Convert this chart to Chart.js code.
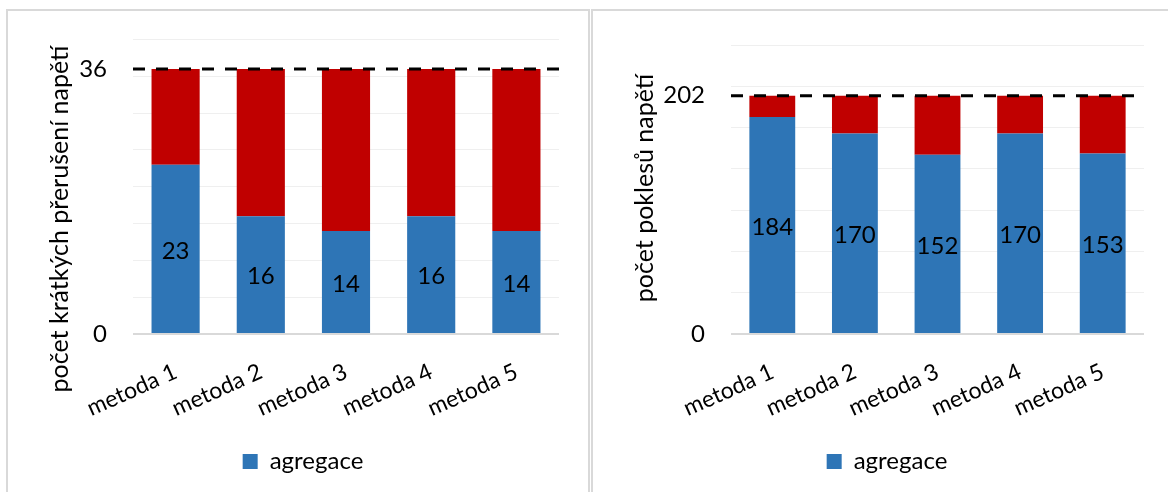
<!DOCTYPE html>
<html>
<head>
<meta charset="utf-8">
<script src="https://cdn.jsdelivr.net/npm/chart.js@4.4.1/dist/chart.umd.min.js"></script>
<style>
  html, body { margin: 0; padding: 0; background: #ffffff; width: 1168px; height: 492px; overflow: hidden; }
  .panel { position: absolute; top: 9px; height: 520px; border: 2px solid #d9d9d9; box-sizing: border-box; background: #ffffff; }
  #panelLeft { left: 6px; width: 584px; }
  #panelRight { left: 591px; width: 620px; }
  canvas { display: block; }
</style>
</head>
<body>
<div class="panel" id="panelLeft"><canvas id="chartLeft" width="580" height="481"></canvas></div>
<div class="panel" id="panelRight"><canvas id="chartRight" width="575" height="481"></canvas></div>
<script>
// Categories shared by both charts
const methods = ['metoda 1', 'metoda 2', 'metoda 3', 'metoda 4', 'metoda 5'];

// Short interruptions: aggregated count and the remainder up to the reference total
const interruptAgg = [23, 16, 14, 16, 14];
const interruptRest = [13, 20, 22, 20, 22];
const interruptLimit = 36;
const interruptTickLabels = [0, 36];
const interruptAxisMax = 40;
const interruptGridStep = 5;

// Voltage dips: aggregated count and the remainder up to the reference total
const dipAgg = [184, 170, 152, 170, 153];
const dipRest = [18, 32, 50, 32, 49];
const dipLimit = 202;
const dipTickLabels = [0, 202];
const dipAxisMax = 245;
const dipGridStep = 35;

const FONT = 'Lato, "Open Sans", sans-serif';
const BLUE = '#2E75B6';
const RED = '#C00000';

// Dashed reference line across the plot at the limit value
const limitLinePlugin = {
  id: 'limitLine',
  afterDatasetsDraw(chart, args, opts) {
    const {ctx, chartArea} = chart;
    const y = chart.scales.y.getPixelForValue(opts.value);
    ctx.save();
    ctx.strokeStyle = '#000000';
    ctx.lineWidth = 3;
    ctx.setLineDash([12, 11]);
    ctx.beginPath();
    ctx.moveTo(chartArea.left, y);
    ctx.lineTo(chartArea.right, y);
    ctx.stroke();
    ctx.restore();
  }
};

// Value labels centred inside the aggregated (blue) segments
const valueLabelPlugin = {
  id: 'valueLabels',
  afterDatasetsDraw(chart) {
    const {ctx} = chart;
    const meta = chart.getDatasetMeta(0);
    const values = chart.data.datasets[0].data;
    ctx.save();
    ctx.fillStyle = '#000000';
    ctx.font = '24px ' + FONT;
    ctx.textAlign = 'center';
    ctx.textBaseline = 'middle';
    meta.data.forEach((bar, i) => {
      const {x, y, base} = bar.getProps(['x', 'y', 'base'], true);
      ctx.fillText(String(values[i]), x, (y + base) / 2 + 2);
    });
    ctx.restore();
  }
};

// Vertical axis caption, placed beside the value axis
const axisCaptionPlugin = {
  id: 'axisCaption',
  afterDraw(chart, args, opts) {
    const {ctx} = chart;
    ctx.save();
    ctx.translate(opts.x, opts.y);
    ctx.rotate(-Math.PI / 2);
    ctx.fillStyle = '#000000';
    ctx.font = '25px ' + FONT;
    ctx.textAlign = 'center';
    ctx.textBaseline = 'middle';
    ctx.fillText(opts.text, 0, 0);
    ctx.restore();
  }
};

function buildChart(canvasId, cfg) {
  const labelled = cfg.tickLabels;
  return new Chart(document.getElementById(canvasId), {
    type: 'bar',
    data: {
      labels: methods,
      datasets: [
        { label: 'agregace', data: cfg.agg, backgroundColor: BLUE, borderWidth: 0,
          categoryPercentage: 1, barPercentage: cfg.barPct },
        { label: 'zbytek', data: cfg.rest, backgroundColor: RED, borderWidth: 0,
          categoryPercentage: 1, barPercentage: cfg.barPct }
      ]
    },
    options: {
      responsive: false,
      animation: false,
      devicePixelRatio: 1,
      layout: {
        autoPadding: false,
        padding: cfg.padding
      },
      scales: {
        x: {
          stacked: true,
          grid: { display: false, drawTicks: false },
          border: { display: false },
          ticks: {
            color: '#000000',
            font: { family: FONT, size: 23 },
            minRotation: 24,
            maxRotation: 24,
            padding: 24,
            autoSkip: false
          },
          afterFit(scale) { scale.height = cfg.xHeight; }
        },
        y: {
          stacked: true,
          min: 0,
          max: cfg.axisMax,
          border: { display: false },
          grid: {
            drawTicks: true,
            tickLength: 26,
            tickColor: 'rgba(0,0,0,0)',
            color(ctx) {
              const v = ctx.tick ? ctx.tick.value : null;
              if (v === 0) return '#d9d9d9';
              if (labelled.includes(v)) return 'rgba(0,0,0,0)';
              return '#efefef';
            },
            lineWidth(ctx) {
              return ctx.tick && ctx.tick.value === 0 ? 2 : 1;
            }
          },
          ticks: {
            stepSize: cfg.gridStep,
            autoSkip: false,
            color: '#000000',
            font: { family: FONT, size: 24 },
            padding: 0,
            callback(value) { return labelled.includes(value) ? String(value) : ''; }
          },
          afterBuildTicks(scale) {
            const vals = new Set(scale.ticks.map(t => t.value));
            labelled.forEach(v => vals.add(v));
            scale.ticks = [...vals].sort((a, b) => a - b).map(v => ({ value: v }));
          },
          afterFit(scale) { scale.width = cfg.yWidth; }
        }
      },
      plugins: {
        legend: {
          position: 'bottom',
          labels: {
            color: '#000000',
            font: { family: FONT, size: 24 },
            boxWidth: 15,
            boxHeight: 15,
            padding: 10,
            filter: item => item.datasetIndex === 0
          }
        },
        tooltip: { enabled: false },
        limitLine: { value: cfg.limit },
        axisCaption: { text: cfg.caption, x: cfg.captionX, y: cfg.captionY }
      }
    },
    plugins: [limitLinePlugin, valueLabelPlugin, axisCaptionPlugin]
  });
}

buildChart('chartLeft', {
  agg: interruptAgg,
  rest: interruptRest,
  limit: interruptLimit,
  tickLabels: interruptTickLabels,
  axisMax: interruptAxisMax,
  gridStep: interruptGridStep,
  barPct: 0.565,
  padding: { left: 39, right: 29, top: 28.5, bottom: 8.5 },
  yWidth: 86,
  xHeight: 105.5,
  caption: 'počet krátkých přerušení napětí',
  captionX: 52,
  captionY: 208
});

buildChart('chartRight', {
  agg: dipAgg,
  rest: dipRest,
  limit: dipLimit,
  tickLabels: dipTickLabels,
  axisMax: dipAxisMax,
  gridStep: dipGridStep,
  barPct: 0.555,
  padding: { left: 37, right: 24, top: 34, bottom: 8.5 },
  yWidth: 101,
  xHeight: 105.5,
  caption: 'počet poklesů napětí',
  captionX: 52,
  captionY: 177
});
</script>
</body>
</html>
